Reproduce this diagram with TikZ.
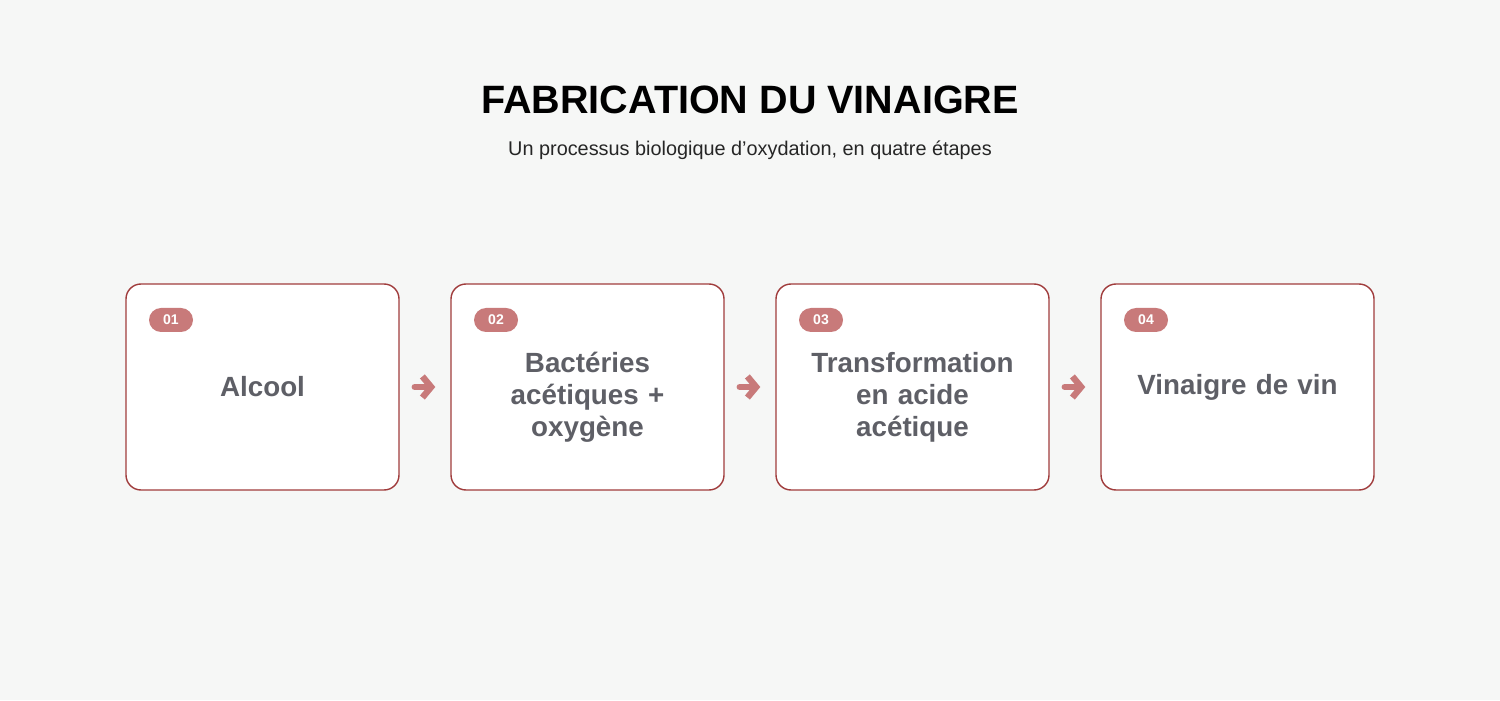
\documentclass[tikz,border=0pt]{standalone}
\usepackage{fontspec}
\setmainfont{Liberation Sans}
\usetikzlibrary{positioning,arrows.meta}
\definecolor{pagebg}{HTML}{F6F7F6}
\definecolor{boxline}{HTML}{A03C3C}
\definecolor{badgefill}{HTML}{C87A7A}
\definecolor{labelgray}{HTML}{5E5F66}
\tikzstyle{titletext} = [font=\bfseries\fontsize{22.5}{26}\selectfont, text=black]
\tikzstyle{subtext} = [font=\fontsize{11.3}{13}\selectfont, text=black!85]
\tikzstyle{stepbox} = [draw=boxline, fill=white, line width=0.8pt, rounded corners=0.3cm, minimum width=5.46cm, minimum height=4.12cm, text width=5cm, align=center, font=\bfseries\fontsize{15.8}{18.1}\selectfont, text=labelgray]
\tikzstyle{lowtext} = [execute at begin node={\rule{0pt}{23pt}}]
\tikzstyle{badge} = [fill=badgefill, rounded corners=0.24cm, minimum width=0.88cm, minimum height=0.48cm, inner sep=0pt, text=white, font=\bfseries\fontsize{8}{9}\selectfont]
\tikzstyle{arrow} = [draw, line width=3.6pt, color=badgefill, line cap=round, line join=round, -{Straight Barb[length=5pt,width=12pt]}, shorten <=0.3cm, shorten >=0.3cm]
\newcommand{\stepbox}[2]{node (s#1) [stepbox] {#2}}
\newcommand{\steplow}[2]{node (s#1) [stepbox,lowtext] {#2}}
\newcommand{\badge}[2]{node (n#1) [badge] {#2}}

\begin{document}
\begin{tikzpicture}
\fill[pagebg] (0,0) rectangle (30,14);
\useasboundingbox (0,0) rectangle (30,14);
\node (title) at (15,12.0) [titletext] {FABRICATION DU VINAIGRE};
\path (title)+(0,-1.0) node (sub) [subtext] {Un processus biologique d’oxydation, en quatre étapes};

\path (5.25,6.26) \stepbox{1}{Alcool};
\path (s1)+(6.5,0) \steplow{2}{Bactéries\\acétiques +\\oxygène};
\path (s2)+(6.5,0) \steplow{3}{Transformation\\en acide\\acétique};
\path (s3)+(6.5,0) \stepbox{4}{Vinaigre de vin};

\path (s1)+(-1.83,1.34) \badge{1}{01};
\path (s2)+(-1.83,1.34) \badge{2}{02};
\path (s3)+(-1.83,1.34) \badge{3}{03};
\path (s4)+(-1.83,1.34) \badge{4}{04};

\path [arrow] (s1.east) -- (s2.west);
\path [arrow] (s2.east) -- (s3.west);
\path [arrow] (s3.east) -- (s4.west);
\end{tikzpicture}
\end{document}
